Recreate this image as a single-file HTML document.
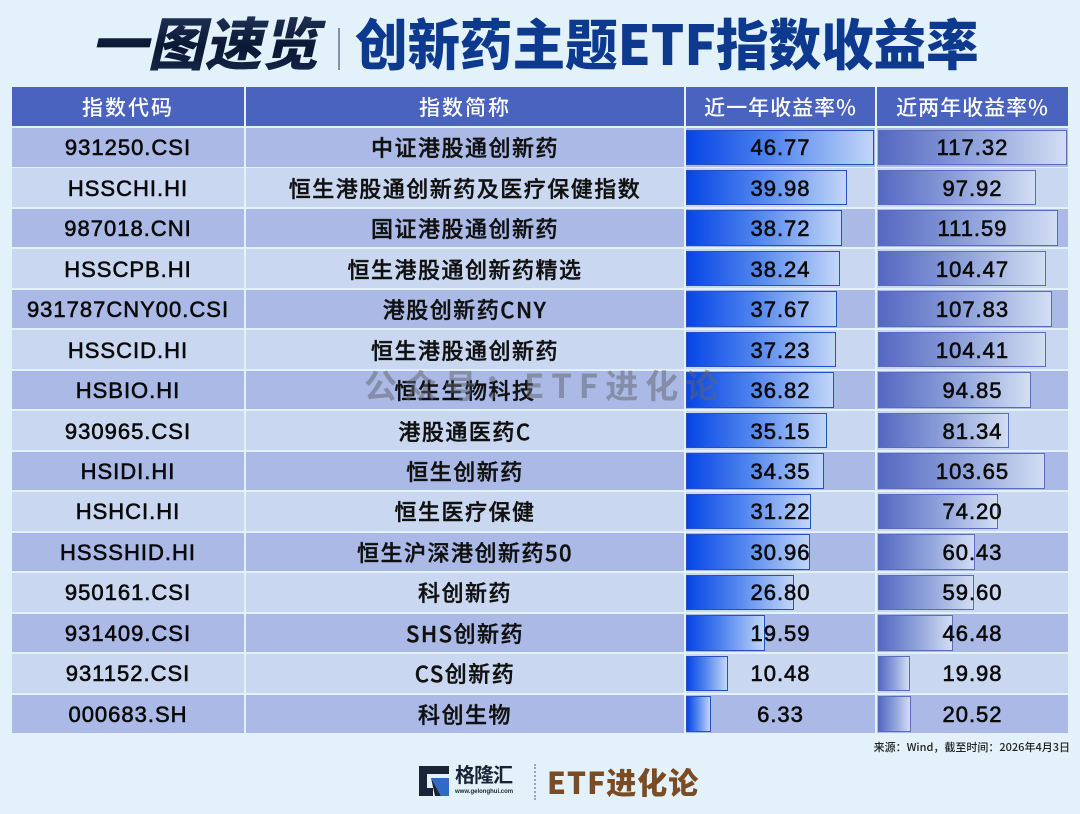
<!DOCTYPE html>
<html><head><meta charset="utf-8">
<style>
*{margin:0;padding:0;box-sizing:border-box}
body{width:1080px;height:814px;overflow:hidden;background:#e3f1fb;position:relative;font-family:"Liberation Sans","Noto Sans CJK SC",sans-serif}
.abs{position:absolute}
.t1{left:88px;top:6px;height:70px;line-height:70px;font-family:"Noto Sans CJK SC",sans-serif;font-weight:900;font-size:57px;color:#0f1e3c;transform:skewX(-13deg);transform-origin:left bottom;letter-spacing:0px;white-space:nowrap;
background:linear-gradient(180deg,#24385e 0%,#0b1733 60%,#16284a 100%);-webkit-background-clip:text;background-clip:text;-webkit-text-fill-color:transparent}
.sep{left:338px;top:28px;width:2px;height:42px;background:#8591a8}
.t2{left:355px;top:6px;height:70px;line-height:70px;font-family:"Noto Sans CJK SC",sans-serif;font-weight:900;font-size:55px;color:#0d3a8e;white-space:nowrap;transform:scaleX(0.955);transform-origin:left center}
.cell{position:absolute;display:flex;align-items:center;justify-content:center;white-space:nowrap;overflow:visible}
.hd{background:#4a63bf;color:#fff;font-family:"Noto Sans CJK SC",sans-serif;font-size:21px;letter-spacing:2px;font-weight:500}
.c{font-size:22px;color:#0a0a0a;letter-spacing:1px;-webkit-text-stroke:0.6px #0a0a0a;padding-top:2px}
.n{font-family:"Noto Sans CJK SC",sans-serif;font-size:22px;font-weight:500;color:#111;letter-spacing:1.5px;-webkit-text-stroke:0.4px #111}
.bar1{position:absolute;background:linear-gradient(90deg,#0645e6 0%,#4f84ee 45%,#c2d6f8 100%);border:1.5px solid #2450c4}
.bar2{position:absolute;background:linear-gradient(90deg,#5568c2 0%,#93a6dc 55%,#d3def3 100%);border:1.5px solid #5b6cc0}
.v{position:absolute;display:flex;align-items:center;justify-content:center;font-size:22px;color:#0a0a0a;letter-spacing:1px;-webkit-text-stroke:0.6px #0a0a0a;padding-top:2px}
.wm{left:364px;top:360px;font-family:"Noto Sans CJK SC",sans-serif;font-weight:700;font-size:33px;color:rgba(95,100,110,0.5);letter-spacing:7px;white-space:nowrap}
.src{right:10px;top:739px;font-family:"Noto Sans CJK SC",sans-serif;font-size:11px;color:#222;font-weight:500;white-space:nowrap}
</style></head><body>
<div class="abs t1">一图速览</div>
<div class="abs sep"></div>
<div class="abs t2">创新药主题ETF指数收益率</div>

<div class="cell hd" style="left:12px;top:87px;width:232px;height:39px">指数代码</div>
<div class="cell hd" style="left:246px;top:87px;width:438px;height:39px">指数简称</div>
<div class="cell hd" style="left:686px;top:87px;width:189px;height:39px;letter-spacing:1px">近一年收益率%</div>
<div class="cell hd" style="left:877px;top:87px;width:191px;height:39px;letter-spacing:1px">近两年收益率%</div>

<div id="rows"></div>
<script>
(function(){
var d=[
["931250.CSI","中证港股通创新药",46.77,"46.77",117.32,"117.32"],
["HSSCHI.HI","恒生港股通创新药及医疗保健指数",39.98,"39.98",97.92,"97.92"],
["987018.CNI","国证港股通创新药",38.72,"38.72",111.59,"111.59"],
["HSSCPB.HI","恒生港股通创新药精选",38.24,"38.24",104.47,"104.47"],
["931787CNY00.CSI","港股创新药CNY",37.67,"37.67",107.83,"107.83"],
["HSSCID.HI","恒生港股通创新药",37.23,"37.23",104.41,"104.41"],
["HSBIO.HI","恒生生物科技",36.82,"36.82",94.85,"94.85"],
["930965.CSI","港股通医药C",35.15,"35.15",81.34,"81.34"],
["HSIDI.HI","恒生创新药",34.35,"34.35",103.65,"103.65"],
["HSHCI.HI","恒生医疗保健",31.22,"31.22",74.20,"74.20"],
["HSSSHID.HI","恒生沪深港创新药50",30.96,"30.96",60.43,"60.43"],
["950161.CSI","科创新药",26.80,"26.80",59.60,"59.60"],
["931409.CSI","SHS创新药",19.59,"19.59",46.48,"46.48"],
["931152.CSI","CS创新药",10.48,"10.48",19.98,"19.98"],
["000683.SH","科创生物",6.33,"6.33",20.52,"20.52"]];
var h="";
for(var i=0;i<d.length;i++){
 var ty=128+i*40.47, hgt=38.5;
 var bg=(i%2==0)?"#aab9e5":"#c9d7f0";
 var r=d[i];
 h+='<div class="cell c" style="left:12px;top:'+ty+'px;width:232px;height:'+hgt+'px;background:'+bg+'">'+r[0]+'</div>';
 h+='<div class="cell n" style="left:246px;top:'+ty+'px;width:438px;height:'+hgt+'px;background:'+bg+'">'+r[1]+'</div>';
 h+='<div class="cell" style="left:686px;top:'+ty+'px;width:189px;height:'+hgt+'px;background:'+bg+'"></div>';
 h+='<div class="cell" style="left:877px;top:'+ty+'px;width:191px;height:'+hgt+'px;background:'+bg+'"></div>';
 var w1=r[2]/46.77*188, w2=r[4]/117.32*189;
 h+='<div class="bar1" style="left:686px;top:'+(ty+1.5)+'px;width:'+w1+'px;height:'+(hgt-3)+'px"></div>';
 h+='<div class="bar2" style="left:878px;top:'+(ty+1.5)+'px;width:'+w2+'px;height:'+(hgt-3)+'px"></div>';
 h+='<div class="v" style="left:686px;top:'+ty+'px;width:189px;height:'+hgt+'px">'+r[3]+'</div>';
 h+='<div class="v" style="left:877px;top:'+ty+'px;width:191px;height:'+hgt+'px">'+r[5]+'</div>';
}
document.getElementById("rows").innerHTML=h;
})();
</script>

<div class="abs wm">公众号：ETF进化论</div>
<div class="abs src">来源：Wind，截至时间：2026年4月3日</div>

<svg class="abs" style="left:417px;top:764px" width="34" height="34" viewBox="0 0 34 34">
<path d="M2 2 H32 V10 H10 V24 H16 V32 H2 Z" fill="#1a2436"/>
<path d="M14 14 H32 V32 H24 Z" fill="#2e6cc4"/>
<path d="M14 14 L24 32 H18 Z" fill="#1a2436"/>
</svg>
<div class="abs" style="left:455px;top:762px;font-family:'Noto Sans CJK SC',sans-serif;font-weight:700;font-size:20px;color:#1a2436;letter-spacing:-1px;line-height:24px">格隆汇</div>
<div class="abs" style="left:455px;top:788px;font-family:'Liberation Sans',sans-serif;font-weight:700;font-size:6px;color:#1a2436;line-height:8px">www.gelonghui.com</div>
<div class="abs" style="left:534px;top:764px;width:0;height:36px;border-left:2px dotted #9aa4b4"></div>
<div class="abs" style="left:547px;top:760px;font-family:'Noto Sans CJK SC',sans-serif;font-weight:900;font-size:30px;color:#7b4c24;line-height:42px;letter-spacing:1px;white-space:nowrap">ETF进化论</div>
</body></html>
